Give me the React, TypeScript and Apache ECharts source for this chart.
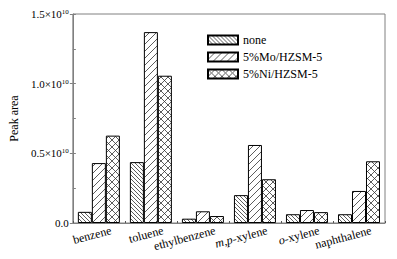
import React, { useEffect, useRef } from "react";
import * as echarts from "echarts";

const categories = ["benzene", "toluene", "ethylbenzene", "m,p-xylene", "o-xylene", "naphthalene"];
const seriesNames = ["none", "5%Mo/HZSM-5", "5%Ni/HZSM-5"];
const noneValues = [0.08e10, 0.437e10, 0.031e10, 0.2e10, 0.063e10, 0.063e10];
const moValues = [0.43e10, 1.37e10, 0.084e10, 0.56e10, 0.093e10, 0.23e10];
const niValues = [0.627e10, 1.057e10, 0.05e10, 0.314e10, 0.078e10, 0.443e10];
const yTicks = [0, 0.5e10, 1.0e10, 1.5e10];

function makePattern(kind: "back" | "fwd" | "cross"): HTMLCanvasElement {
  const size = kind === "back" ? 4 : 7;
  const c = document.createElement("canvas");
  c.width = size;
  c.height = size;
  const ctx = c.getContext("2d")!;
  ctx.fillStyle = "#ffffff";
  ctx.fillRect(0, 0, size, size);
  ctx.strokeStyle = "#333333";
  ctx.lineWidth = 0.8;
  const back = () => {
    ctx.beginPath();
    ctx.moveTo(-1, -1);
    ctx.lineTo(size + 1, size + 1);
    ctx.moveTo(-1, size - 1);
    ctx.lineTo(1, size + 1);
    ctx.moveTo(size - 1, -1);
    ctx.lineTo(size + 1, 1);
    ctx.stroke();
  };
  const fwd = () => {
    ctx.beginPath();
    ctx.moveTo(-1, size + 1);
    ctx.lineTo(size + 1, -1);
    ctx.moveTo(-1, 1);
    ctx.lineTo(1, -1);
    ctx.moveTo(size - 1, size + 1);
    ctx.lineTo(size + 1, size - 1);
    ctx.stroke();
  };
  if (kind === "back") back();
  else if (kind === "fwd") fwd();
  else {
    back();
    fwd();
  }
  return c;
}

export default function App() {
  const ref = useRef<HTMLDivElement>(null);
  useEffect(() => {
    if (!ref.current) return;
    const chart = echarts.init(ref.current, undefined, { renderer: "svg" });
    const font = "Liberation Serif";
    const patterns = [makePattern("back"), makePattern("fwd"), makePattern("cross")];
    const valuesList = [noneValues, moValues, niValues];
    const labelMap: Record<string, string> = {
      "m,p-xylene": "{i|m,p}{n|-xylene}",
      "o-xylene": "{i|o}{n|-xylene}",
    };
    chart.setOption({
      animation: false,
      textStyle: { fontFamily: font, color: "#000" },
      grid: {
        left: 69,
        right: 12,
        top: 14,
        bottom: 36,
        show: true,
        borderColor: "#808080",
        borderWidth: 1,
        containLabel: false,
      },
      legend: {
        orient: "vertical",
        left: 207,
        top: 34,
        padding: 0,
        itemWidth: 30,
        itemHeight: 9,
        itemGap: 5,
        icon: "rect",
        textStyle: { fontFamily: font, fontSize: 12, color: "#000", padding: [0, 0, 0, 0] },
        data: seriesNames,
      },
      xAxis: {
        type: "category",
        data: categories,
        boundaryGap: true,
        axisLine: { lineStyle: { color: "#808080", width: 1 } },
        axisTick: { show: true, inside: true, length: 2, alignWithLabel: false, lineStyle: { color: "#555" } },
        axisLabel: {
          interval: 0,
          rotate: 15,
          align: "right",
          verticalAlign: "top",
          margin: 4,
          padding: [0, -11, 0, 0],
          fontFamily: font,
          fontSize: 12,
          color: "#000",
          formatter: (v: string) => labelMap[v] || `{n|${v}}`,
          rich: {
            i: { fontFamily: font, fontSize: 12, fontStyle: "italic", color: "#000" },
            n: { fontFamily: font, fontSize: 12, color: "#000" },
          },
        },
      },
      yAxis: [
        {
          type: "value",
          min: 0,
          max: 1.5e10,
          interval: 0.5e10,
          name: "Peak area",
          nameLocation: "middle",
          nameGap: 52,
          nameTextStyle: { fontFamily: font, fontSize: 12, color: "#000" },
          axisLine: { show: true, lineStyle: { color: "#808080", width: 1 } },
          axisTick: { show: true, inside: false, length: 3, lineStyle: { color: "#808080" } },
          splitLine: { show: false },
          axisLabel: {
            margin: 4,
            fontFamily: font,
            fontSize: 11,
            color: "#000",
            customValues: yTicks,
            formatter: (v: number) =>
              v === 0 ? "{a|0.0}" : `{a|${(v / 1e10).toFixed(1)}×10}{s|10}`,
            rich: {
              a: { fontFamily: font, fontSize: 11, color: "#000", verticalAlign: "bottom" },
              s: { fontFamily: font, fontSize: 7, color: "#000", verticalAlign: "bottom", padding: [0, 0, 4, 0] },
            },
          },
        },
        {
          type: "value",
          min: 0,
          max: 1.5e10,
          interval: 0.25e10,
          position: "left",
          alignTicks: false,
          axisLine: { show: false },
          axisTick: { show: true, inside: true, length: 3, lineStyle: { color: "#808080" } },
          axisLabel: { show: false },
          splitLine: { show: false },
        },
      ],
      series: seriesNames.map((name, i) => ({
        name,
        type: "bar",
        yAxisIndex: 0,
        barWidth: 14,
        barGap: "0%",
        data: valuesList[i],
        itemStyle: {
          color: { image: patterns[i], repeat: "repeat" },
          borderColor: "#000",
          borderWidth: 1,
        },
      })),
    });
    return () => chart.dispose();
  }, []);
  return <div ref={ref} style={{ width: 397, height: 259, margin: -8 }} />;
}
